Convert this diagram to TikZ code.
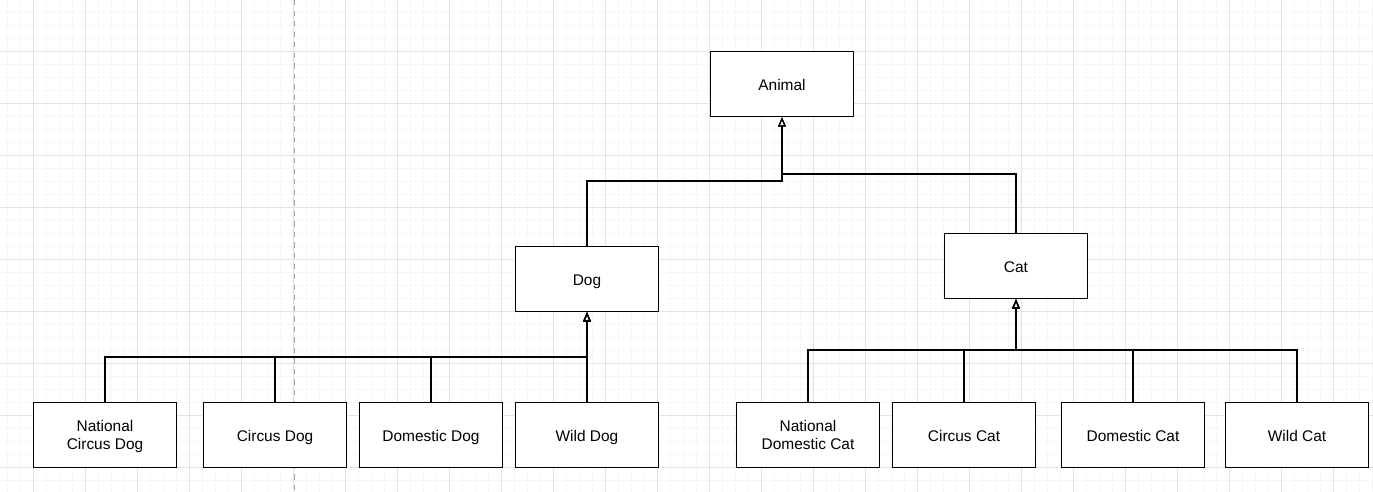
\documentclass[tikz,border=0pt]{standalone}
\usepackage{fontspec}
\setmainfont{Liberation Sans}
\usepackage{xcolor}
\definecolor{gridmajor}{HTML}{E2E2E2}
\definecolor{gridminor}{HTML}{F6F6F6}
\usepackage{tikz}
\usetikzlibrary{positioning,arrows.meta}

\begin{document}
\begin{tikzpicture}[x=0.02cm, y=-0.02cm,
    classbox/.style={draw, line width=0.75pt, fill=white, inner sep=0pt,
      minimum width=2.86cm, minimum height=1.3cm, align=center,
      text height=8.2pt, text depth=1pt,
      font=\fontsize{8.8}{10}\selectfont},
    oneline/.style={},
    twoline/.style={text height=17.2pt},
    inherit/.style={draw, line width=0.7pt, -{Triangle[open, length=5.4pt, width=4.4pt]}}]
  \useasboundingbox (0,0) rectangle (1373,492);
  \fill[white] (0,0) rectangle (1373,492);
  % background grid
  \foreach \x in {7,20,...,1373}
    \draw[gridminor, line width=0.5pt] (\x,0) -- (\x,492);
  \foreach \y in {12.5,25.5,...,492}
    \draw[gridminor, line width=0.5pt] (0,\y) -- (1373,\y);
  \foreach \x in {33,85,...,1373}
    \draw[gridmajor, line width=0.5pt] (\x,0) -- (\x,492);
  \foreach \y in {51.5,103.5,...,492}
    \draw[gridmajor, line width=0.5pt] (0,\y) -- (1373,\y);
  \draw[gray!70, dashed, line width=0.5pt] (294,0) -- (294,492);

  \node[classbox] (animal) at (782, 84) {Animal};
  \node[classbox] (dog) at (587, 279) {Dog};
  \node[classbox] (cat) at (1016, 266) {Cat};

  \foreach \name/\x/\label/\lines in {ncdog/105/{National\\Circus Dog}/twoline,
      circusdog/275/{Circus Dog}/oneline, domdog/431/{Domestic Dog}/oneline,
      wilddog/587/{Wild Dog}/oneline}
    \node[classbox, \lines] (\name) at (\x, 435) {\label};
  \foreach \name/\x/\label/\lines in {ndcat/808/{National\\Domestic Cat}/twoline,
      circuscat/964/{Circus Cat}/oneline, domcat/1133/{Domestic Cat}/oneline,
      wildcat/1297/{Wild Cat}/oneline}
    \node[classbox, \lines] (\name) at (\x, 435) {\label};

  \coordinate (dogjoin) at (782, 181);
  \coordinate (catjoin) at (782, 174);
  \coordinate (dogbus) at (587, 357);
  \coordinate (catbus) at (1016, 350);

  \draw[inherit] (dog.north) |- (dogjoin) -- (animal.south);
  \draw[inherit] (cat.north) |- (catjoin) -- (animal.south);

  \foreach \name in {ncdog, circusdog, domdog, wilddog}
    \draw[inherit] (\name.north) |- (dogbus) -- (dog.south);
  \foreach \name in {ndcat, circuscat, domcat, wildcat}
    \draw[inherit] (\name.north) |- (catbus) -- (cat.south);
\end{tikzpicture}
\end{document}
